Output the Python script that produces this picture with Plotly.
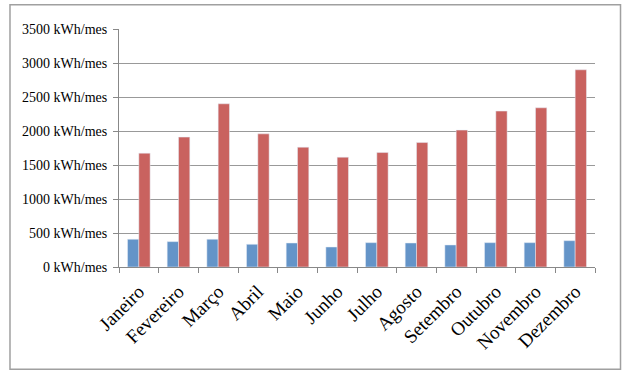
import plotly.graph_objects as go

months = ["Janeiro", "Fevereiro", "Março", "Abril", "Maio", "Junho",
          "Julho", "Agosto", "Setembro", "Outubro", "Novembro", "Dezembro"]
serie_azul = [408, 373, 408, 334, 353, 294, 358, 353, 324, 358, 358, 387]
serie_vermelha = [1674, 1910, 2400, 1958, 1762, 1615, 1683, 1830, 2013, 2293, 2341, 2900]
y_ticks = [0, 500, 1000, 1500, 2000, 2500, 3000, 3500]
y_labels = [f"{v} kWh/mes" for v in y_ticks]

fig = go.Figure()
fig.add_trace(go.Bar(x=months, y=serie_azul, marker_color="#6494C8", showlegend=False))
fig.add_trace(go.Bar(x=months, y=serie_vermelha, marker_color="#C9625F", showlegend=False))

font = "Liberation Serif, Times New Roman, serif"
fig.update_layout(
    width=627, height=375,
    margin=dict(l=119, r=32, t=29, b=108, autoexpand=False),
    barmode="group", bargap=0.43, bargroupgap=0,
    plot_bgcolor="white", paper_bgcolor="white",
    font=dict(family=font, color="black"),
)
fig.update_xaxes(
    showline=True, linecolor="#888888", linewidth=1,
    ticks="outside", tickson="boundaries", ticklen=5, tickcolor="#888888",
    tickangle=-45, tickfont=dict(size=19, family=font, color="black"),
    ticklabelstandoff=5,
    showgrid=False, automargin=False,
)
fig.update_yaxes(
    range=[0, 3500], tickvals=y_ticks, ticktext=y_labels,
    showline=True, linecolor="#888888", linewidth=1,
    ticks="outside", ticklen=5, tickcolor="#888888",
    showgrid=True, gridcolor="#999999", gridwidth=1,
    tickfont=dict(size=14, family=font, color="black"),
    ticklabelstandoff=3,
    zeroline=False, automargin=False,
)
fig.add_shape(type="rect", xref="paper", yref="paper",
              x0=-0.229, x1=1.0536, y0=-0.43, y1=1.102,
              line=dict(color="#A0A0A0", width=1.5), fillcolor="rgba(0,0,0,0)",
              layer="above")

fig.write_html("out.html",
               config={"displayModeBar": False},
               post_script="document.body.style.margin='0';document.body.style.padding='0';")
